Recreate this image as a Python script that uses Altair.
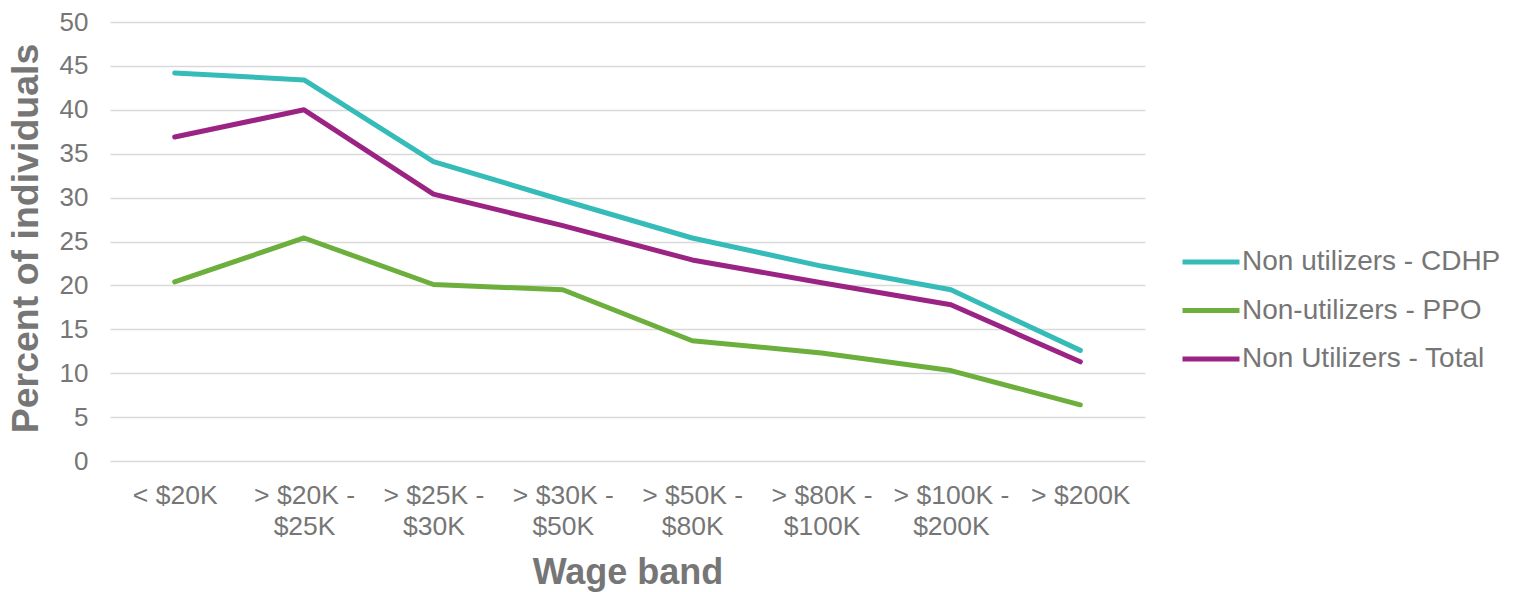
import altair as alt
import pandas as pd

bands = ["< $20K", "> $20K -\n$25K", "> $25K -\n$30K", "> $30K -\n$50K",
         "> $50K -\n$80K", "> $80K -\n$100K", "> $100K -\n$200K", "> $200K"]
series_names = ["Non utilizers - CDHP", "Non-utilizers - PPO", "Non Utilizers - Total"]
cdhp = [44.2, 43.4, 34.1, 29.7, 25.4, 22.2, 19.5, 12.6]
ppo = [20.4, 25.4, 20.1, 19.5, 13.7, 12.3, 10.3, 6.4]
total = [36.9, 40.0, 30.4, 26.8, 22.9, 20.3, 17.8, 11.3]
colors = ["#35BCB9", "#6CAF3C", "#9B2384"]

rows = []
for name, vals in zip(series_names, [cdhp, ppo, total]):
    for i, (b, v) in enumerate(zip(bands, vals)):
        rows.append({"band": b, "value": v, "series": name, "order": i})
df = pd.DataFrame(rows)

FONT = "Liberation Sans"
GREY = "#767676"

chart = alt.Chart(df).mark_line(strokeWidth=5, strokeCap="round", strokeJoin="round").encode(
    x=alt.X("band:N", sort=bands,
            scale=alt.Scale(type="point", padding=0.5),
            axis=alt.Axis(title="Wage band", labelAngle=0, ticks=False, domain=False,
                          grid=False,
                          labelExpr="split(datum.label, '\\n')",
                          labelFontSize=26.5, labelColor=GREY, labelFont=FONT,
                          labelLineHeight=31, labelPadding=21,
                          titleFontSize=36, titleFontWeight="bold", titleColor=GREY,
                          titleFont=FONT, titleY=122, titleBaseline="alphabetic")),
    y=alt.Y("value:Q", scale=alt.Scale(domain=[0, 50], nice=False),
            axis=alt.Axis(title="Percent of individuals", values=list(range(0, 51, 5)),
                          ticks=False, domain=False, grid=True,
                          gridColor="#D9D9D9", gridWidth=1.5,
                          labelFontSize=26, labelColor=GREY, labelFont=FONT,
                          labelPadding=22,
                          titleFontSize=37.5, titleFontWeight="bold", titleColor=GREY,
                          titleFont=FONT, titleX=-65, titleY=216, titleBaseline="bottom")),
    color=alt.Color("series:N",
                    scale=alt.Scale(domain=series_names, range=colors),
                    legend=alt.Legend(title=None, orient="none", legendX=1070, legendY=209,
                                      symbolType="stroke", symbolSize=3249,
                                      symbolStrokeWidth=5, labelFontSize=28,
                                      labelColor=GREY, labelFont=FONT,
                                      labelOffset=0, rowPadding=3.5,
                                      labelLimit=400)),
    order="order:Q",
).properties(
    width=1035, height=439,
    background="white",
    autosize=alt.AutoSizeParams(type="none"),
    padding={"left": 110, "top": 22, "right": 368, "bottom": 131},
).configure_view(strokeWidth=0)

chart.save("out.html", embed_options={"renderer": "svg", "actions": False})
